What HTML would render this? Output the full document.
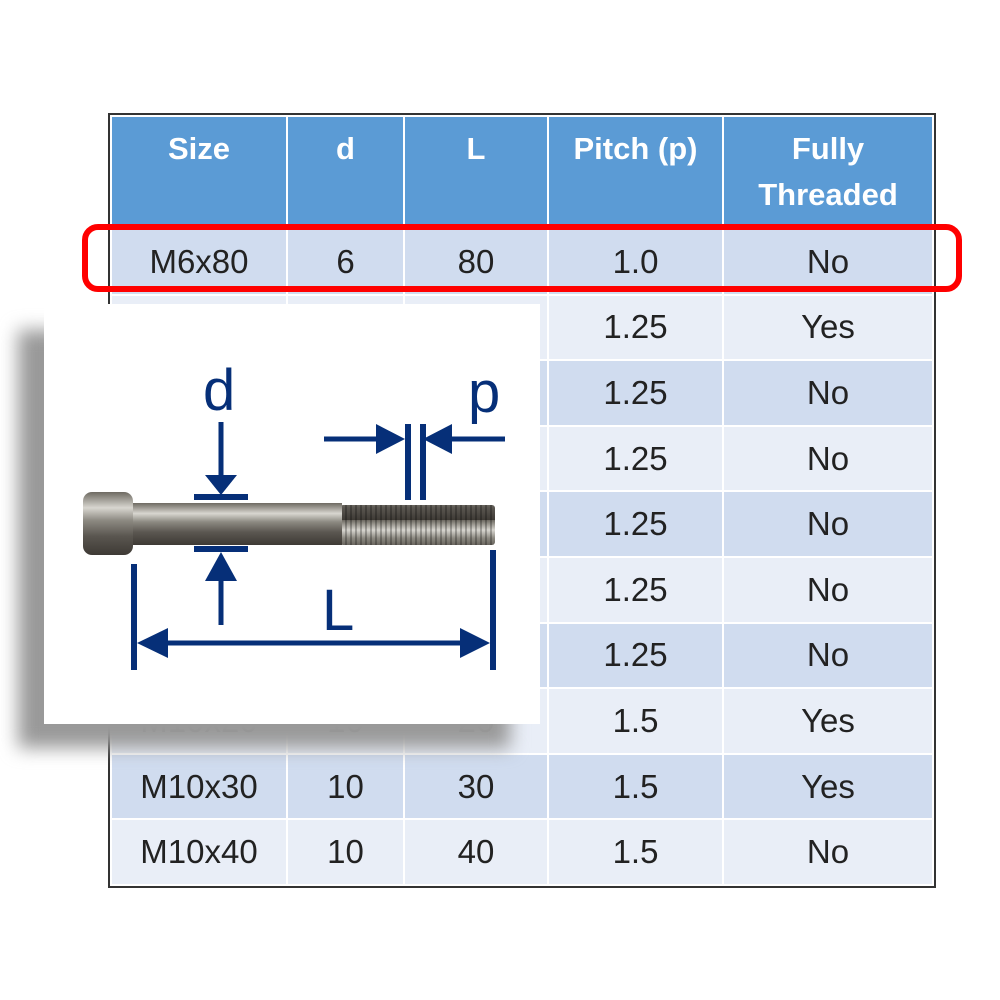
<!DOCTYPE html>
<html><head><style>
body{margin:0;width:1000px;height:1000px;background:#fff;position:relative;overflow:hidden;font-family:"Liberation Sans",sans-serif}
table{position:absolute;left:110px;top:115px;border-collapse:collapse;outline:2px solid #333}
td{border:2px solid #fff;text-align:center;font-size:33px;color:#222;padding:0;height:65.6px;box-sizing:border-box}
th{background:#5b9bd5;color:#fff;font-size:31px;border:2px solid #fff;height:113px;vertical-align:top;padding-top:9px;line-height:46px;box-sizing:border-box}
tr.a td{background:#d0dcef}
tr.b td{background:#e9eef7}
</style></head><body>
<table>
<tr><th style="width:176px">Size</th><th style="width:117px">d</th><th style="width:144px">L</th><th style="width:175px">Pitch (p)</th><th style="width:210px">Fully<br>Threaded</th></tr>
<tr class="a"><td>M6x80</td><td>6</td><td>80</td><td>1.0</td><td>No</td></tr>
<tr class="b"><td></td><td></td><td></td><td>1.25</td><td>Yes</td></tr>
<tr class="a"><td></td><td></td><td></td><td>1.25</td><td>No</td></tr>
<tr class="b"><td></td><td></td><td></td><td>1.25</td><td>No</td></tr>
<tr class="a"><td></td><td></td><td></td><td>1.25</td><td>No</td></tr>
<tr class="b"><td></td><td></td><td></td><td>1.25</td><td>No</td></tr>
<tr class="a"><td></td><td></td><td></td><td>1.25</td><td>No</td></tr>
<tr class="b"><td>M10x20</td><td>10</td><td>20</td><td>1.5</td><td>Yes</td></tr>
<tr class="a"><td>M10x30</td><td>10</td><td>30</td><td>1.5</td><td>Yes</td></tr>
<tr class="b"><td>M10x40</td><td>10</td><td>40</td><td>1.5</td><td>No</td></tr>
</table>
<div style="position:absolute;left:82px;top:224px;width:868px;height:56px;border:6px solid #f00;border-radius:16px"></div>
<div style="position:absolute;left:18px;top:330px;width:492px;height:418px;background:#999;filter:blur(9px)"></div>
<div style="position:absolute;left:44px;top:304px;width:496px;height:420px;background:#fff"></div>
<svg style="position:absolute;left:0;top:0" width="1000" height="1000">
<defs>
<linearGradient id="m" x1="0" y1="0" x2="0" y2="1">
<stop offset="0" stop-color="#6e6a62"/><stop offset=".25" stop-color="#d8d6d0"/><stop offset=".45" stop-color="#8d8a82"/><stop offset=".7" stop-color="#5a5650"/><stop offset="1" stop-color="#3e3a35"/></linearGradient>
<pattern id="t" width="5" height="40" patternUnits="userSpaceOnUse"><rect width="5" height="40" fill="url(#m)"/><rect width="2" height="40" fill="#000" opacity=".25"/></pattern>
</defs>
<rect x="340" y="505" width="155" height="40" fill="url(#t)" rx="3"/>
<rect x="130" y="503" width="212" height="42" fill="url(#m)"/>
<rect x="83" y="492" width="50" height="63" rx="9" fill="url(#m)"/>
<g fill="#062f78" stroke="#062f78">
<text x="203" y="410" font-size="58" stroke="none">d</text>
<text x="468" y="412" font-size="58" stroke="none">p</text>
<text x="322" y="630" font-size="58" stroke="none">L</text>
<line x1="221" y1="422" x2="221" y2="478" stroke-width="5"/>
<polygon points="205,475 237,475 221,495" stroke="none"/>
<rect x="194" y="494" width="54" height="6" stroke="none"/>
<rect x="194" y="546" width="54" height="6" stroke="none"/>
<polygon points="205,581 237,581 221,552" stroke="none"/>
<line x1="221" y1="578" x2="221" y2="625" stroke-width="5"/>
<line x1="324" y1="439" x2="385" y2="439" stroke-width="5"/>
<polygon points="376,424 376,454 405,439" stroke="none"/>
<rect x="405" y="424" width="6" height="76" stroke="none"/>
<rect x="420" y="424" width="6" height="76" stroke="none"/>
<polygon points="452,424 452,454 423,439" stroke="none"/>
<line x1="445" y1="439" x2="505" y2="439" stroke-width="5"/>
<rect x="131" y="564" width="6" height="106" stroke="none"/>
<rect x="490" y="550" width="6" height="120" stroke="none"/>
<line x1="160" y1="643" x2="470" y2="643" stroke-width="5"/>
<polygon points="137,643 168,628 168,658" stroke="none"/>
<polygon points="490,643 460,628 460,658" stroke="none"/>
</g>
</svg>
</body></html>
